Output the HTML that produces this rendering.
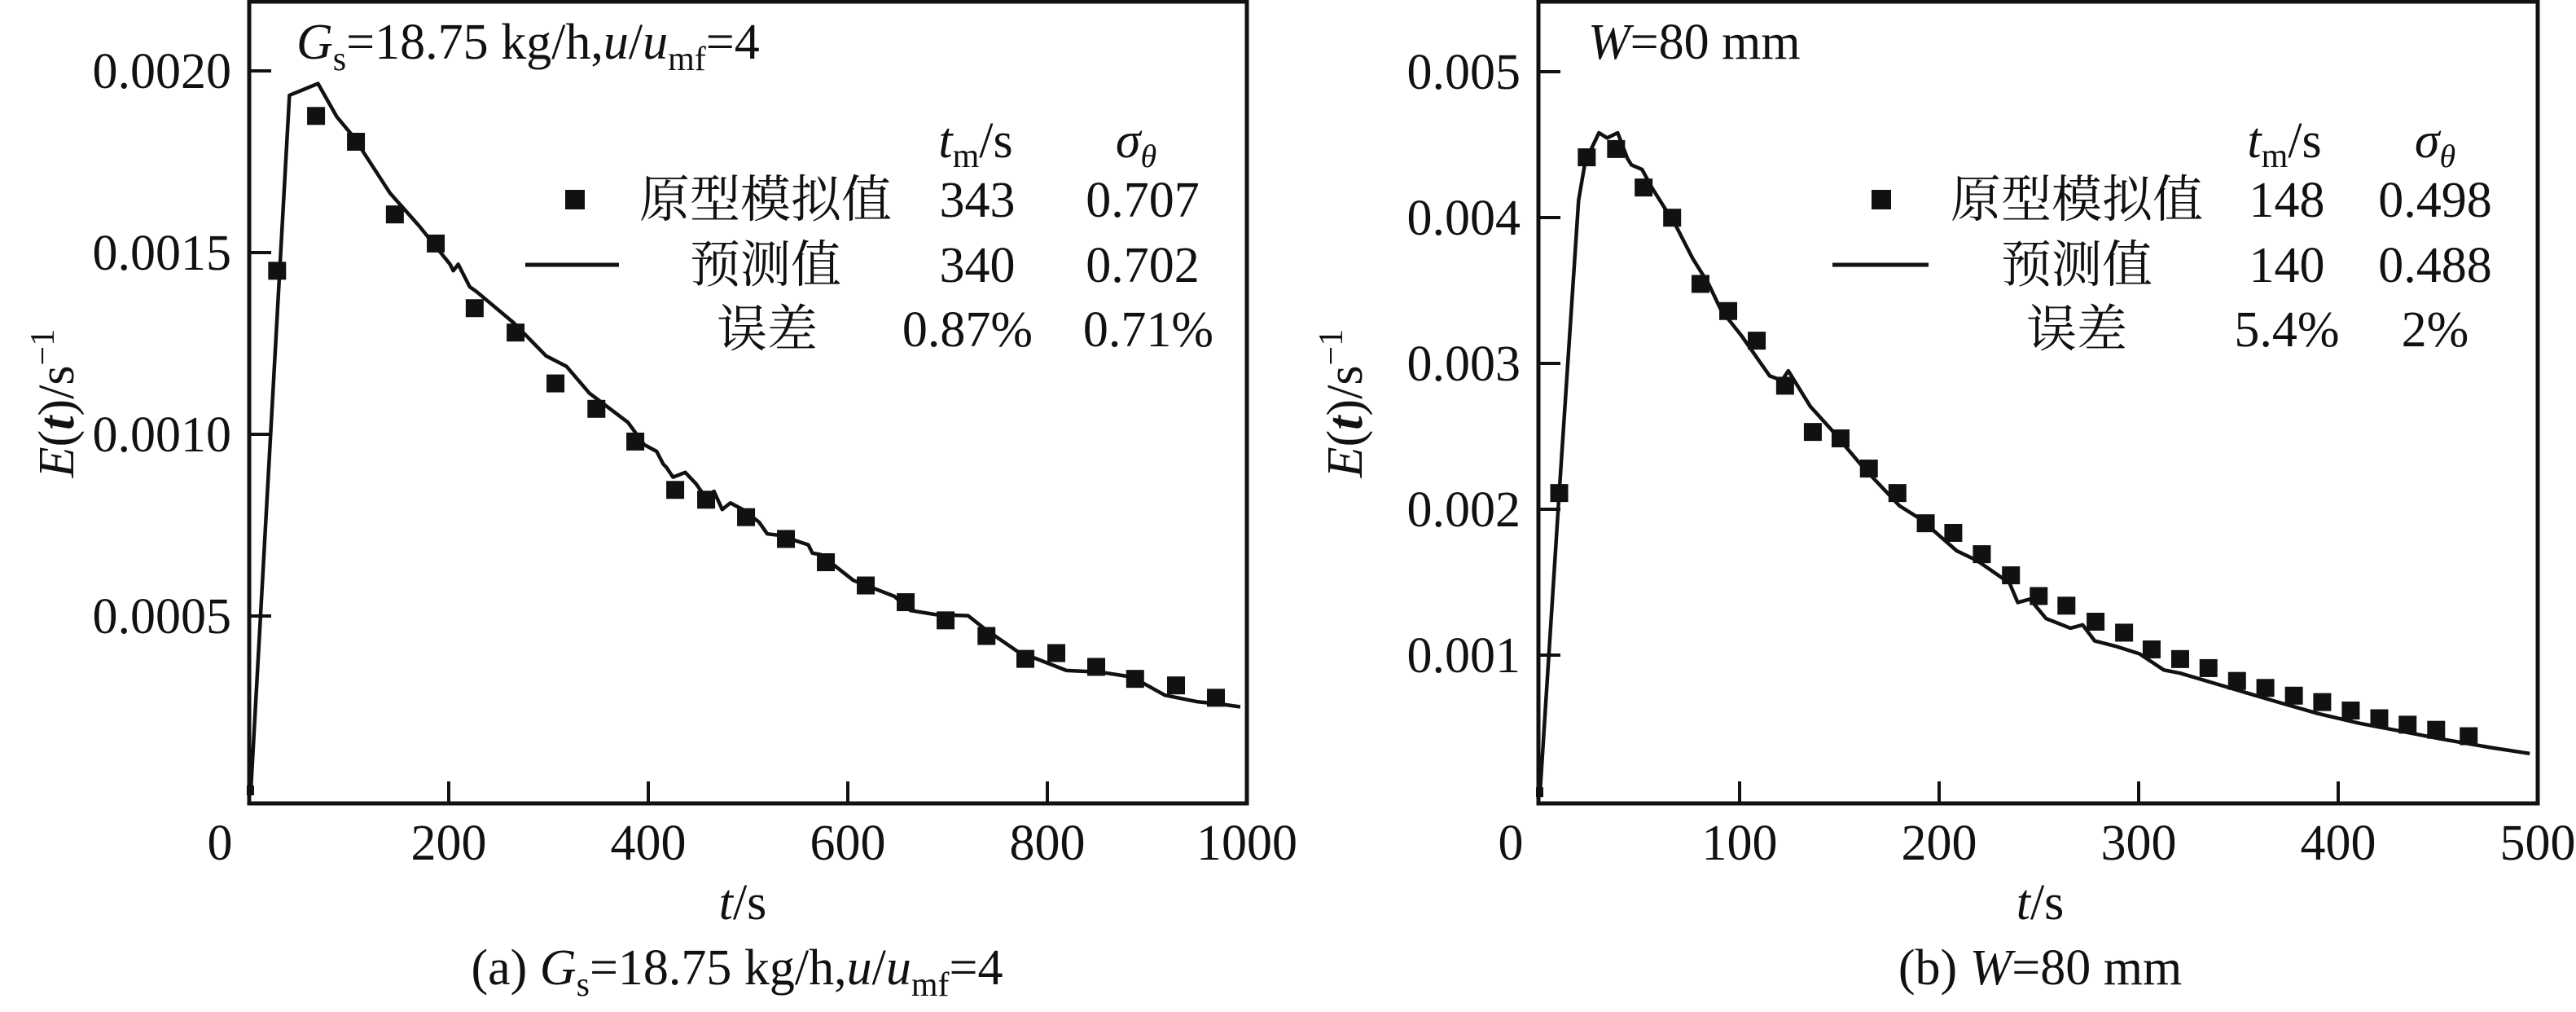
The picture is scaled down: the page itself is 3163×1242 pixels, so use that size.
<!DOCTYPE html>
<html><head><meta charset="utf-8"><style>
html,body{margin:0;padding:0;background:#fff;}
svg{display:block;}
text{font-family:"Liberation Serif","Noto Serif CJK SC","Noto Sans CJK SC",serif;fill:#111;}
.t{font-size:62px;}
</style></head><body>
<svg id="fig" width="3163" height="1242" viewBox="0 0 3163 1242" xmlns="http://www.w3.org/2000/svg">
<g id="gA"></g>
<g id="gB"></g>
</svg>
<script>
// ---- Chart A data ----
const aXTicks=[0,200,400,600,800,1000];
const aYTicks=[0.0005,0.0010,0.0015,0.0020];
const aYLabels=["0.0005","0.0010","0.0015","0.0020"];
const aSimT=[28,67,107,146,187,226,267,307,348,387,427,458,498,538,578,618,658,698,739,778,809,849,888,929,969];
const aSimE=[0.00145,0.001876,0.001805,0.001605,0.001525,0.001347,0.00128,0.00114,0.00107,0.00098,0.000847,0.00082,0.000772,0.000712,0.000648,0.000584,0.000538,0.000488,0.000445,0.000382,0.000398,0.00036,0.000327,0.000309,0.000275];
const aPredT=[1.6,40.3,69,87.9,104.4,141.3,170.1,201.3,204.6,209.5,221,227.6,264.6,297.5,318,341,379.6,396.1,408.4,415,418.2,424.8,437.1,447.8,457.7,465.9,474.1,482.3,494.7,511.1,519.3,531.6,560.4,564.5,572.7,605.6,646.7,663.1,687.8,720.6,737.1,769.9,819.2,852.1,885,917.8,950.7,975.3,993.4];
const aPredE=[0.00002,0.001933,0.001965,0.001873,0.001819,0.001663,0.001574,0.001468,0.00145,0.001468,0.001406,0.001393,0.001308,0.001216,0.001187,0.001113,0.001033,0.000971,0.000953,0.000918,0.000909,0.000882,0.000895,0.000864,0.000825,0.000843,0.000793,0.000811,0.000793,0.000758,0.000726,0.000722,0.000696,0.000673,0.000669,0.000598,0.000554,0.000515,0.000504,0.000501,0.000465,0.000403,0.00035,0.000346,0.000332,0.000282,0.000264,0.000257,0.00025];
// ---- Chart B data ----
const bXTicks=[0,100,200,300,400,500];
const bYTicks=[0.001,0.002,0.003,0.004,0.005];
const bYLabels=["0.001","0.002","0.003","0.004","0.005"];
const bSimT=[9.6,23.4,38.1,51.9,66.2,80.4,94.3,108.6,122.8,136.7,150.6,164.8,179.1,193.3,207.1,221.4,236,249.9,263.8,278.4,292.7,306.5,320.8,335,349.3,363.5,377.8,392,406.3,420.6,434.8,449.1,465.4];
const bSimE=[0.002111,0.004413,0.00447,0.004206,0.003999,0.003545,0.003359,0.003156,0.002847,0.00253,0.002486,0.002279,0.002111,0.001904,0.001838,0.001692,0.001547,0.001405,0.001339,0.001229,0.001154,0.001039,0.000973,0.000911,0.000823,0.000775,0.000722,0.000678,0.00062,0.000567,0.000523,0.000488,0.000444];
const bPredT=[0,9.6,19.3,22.6,29.5,33.6,38.9,43.8,45.8,51.1,56,68.2,76.4,84.5,90.6,100.8,115.1,121.2,124.4,135.4,145.6,161.9,180.2,190.4,208.8,219,235.3,239.4,245.5,253.6,265.8,271.9,278,288.2,300.4,312.6,320.8,337.1,353.4,369.7,390,410.4,430.8,451.1,475.6,496];
const bPredE=[0.00006,0.00211,0.004118,0.004382,0.004581,0.004546,0.004581,0.004405,0.004361,0.00433,0.004206,0.003941,0.003721,0.003544,0.003368,0.003192,0.002914,0.002883,0.002949,0.002706,0.002552,0.002287,0.002023,0.001935,0.001715,0.001648,0.001494,0.001361,0.001384,0.001251,0.001185,0.001207,0.001097,0.001062,0.001009,0.000898,0.000876,0.00081,0.000744,0.000678,0.000599,0.000533,0.00048,0.000426,0.000368,0.000325];

const NS="http://www.w3.org/2000/svg";
function mk(parent,tag,attrs){const e=document.createElementNS(NS,tag);for(const k in attrs)e.setAttribute(k,attrs[k]);parent.appendChild(e);return e;}

function drawChart(g,cfg){
  const X=t=>cfg.x0+(t-cfg.t0)/(cfg.t1-cfg.t0)*(cfg.x1-cfg.x0);
  const Y=v=>cfg.y0-v*cfg.yScale;
  // frame
  const fr=mk(g,'rect',{x:cfg.left,y:2,width:cfg.right-cfg.left,height:cfg.bottom-2,fill:'none',stroke:'#111','stroke-width':5});
  
  
  // x ticks
  cfg.xTicks.forEach((t,i)=>{
    const x=X(t);
    if(i>0&&i<cfg.xTicks.length-1){
      const tk=mk(g,'line',{x1:x,x2:x,y1:cfg.bottom,y2:cfg.bottom-27,stroke:'#111','stroke-width':4});
      
      
    }
    const lx=(i===0)?x-36:x;
    const lb=mk(g,'text',{x:lx,y:1055,'text-anchor':'middle',class:'t'});
    lb.textContent=String(t);
    
    
  });
  // y ticks
  cfg.yTicks.forEach((v,i)=>{
    const y=Y(v);
    const tk=mk(g,'line',{x1:cfg.left,x2:cfg.left+27,y1:y,y2:y,stroke:'#111','stroke-width':4});
    
    
    const lb=mk(g,'text',{x:cfg.left-22,y:y+21,'text-anchor':'end',class:'t'});
    lb.textContent=cfg.yLabels[i];
    
    
  });
  // prediction line
  let d='';
  cfg.predT.forEach((t,i)=>{d+=(i?'L':'M')+X(t).toFixed(1)+' '+Y(cfg.predE[i]).toFixed(1);});
  const pl=mk(g,'path',{d:d,fill:'none',stroke:'#111','stroke-width':4.5,'stroke-linejoin':'round'});
  
  
  // start marker
  const sm=mk(g,'rect',{x:X(cfg.predT[0])-5,y:Y(cfg.predE[0])-6,width:9,height:12,fill:'#111'});
  
  
  // sim squares
  cfg.simT.forEach((t,i)=>{
    const s=mk(g,'rect',{x:X(t)-11,y:Y(cfg.simE[i])-11,width:22,height:22,fill:'#111'});
    
    
  });
}

drawChart(document.getElementById('gA'),{left:306,right:1531,bottom:986,x0:306,x1:1531,t0:0,t1:1000,y0:979,yScale:446000,
  xTicks:aXTicks,yTicks:aYTicks,yLabels:aYLabels,simT:aSimT,simE:aSimE,predT:aPredT,predE:aPredE});
drawChart(document.getElementById('gB'),{left:1889,right:3116,bottom:986,x0:1891,x1:3116,t0:0,t1:500,y0:983,yScale:179000,
  xTicks:bXTicks,yTicks:bYTicks,yLabels:bYLabels,simT:bSimT,simE:bSimE,predT:bPredT,predE:bPredE});
</script>
<svg width="0" height="0" style="position:absolute"></svg>
<script>
(function(){
const svg=document.getElementById('fig');
const html=`
<g>
 <text class="t" x="364" y="72"><tspan font-style="italic">G</tspan><tspan font-size="42" dy="14">s</tspan><tspan dy="-14">=18.75 kg/h,</tspan><tspan font-style="italic">u</tspan>/<tspan font-style="italic">u</tspan><tspan font-size="42" dy="14">mf</tspan><tspan dy="-14">=4</tspan></text>
 <text class="t" x="1198" y="193" text-anchor="middle"><tspan font-style="italic">t</tspan><tspan font-size="42" dy="12">m</tspan><tspan dy="-12">/s</tspan></text>
 <text class="t" x="1395" y="193" text-anchor="middle"><tspan font-style="italic">σ</tspan><tspan font-size="40" dy="12" font-style="italic">θ</tspan></text>
 <rect x="694" y="233" width="24" height="24" fill="#111"/>
 <text class="t" x="785" y="266">原型模拟值</text>
 <text class="t" x="1200" y="266" text-anchor="middle">343</text>
 <text class="t" x="1403" y="266" text-anchor="middle">0.707</text>
 <line x1="645" x2="760" y1="325" y2="325" stroke="#111" stroke-width="5"/>
 <text class="t" x="940" y="346" text-anchor="middle">预测值</text>
 <text class="t" x="1200" y="346" text-anchor="middle">340</text>
 <text class="t" x="1403" y="346" text-anchor="middle">0.702</text>
 <text class="t" x="942" y="425" text-anchor="middle">误差</text>
 <text class="t" x="1188" y="425" text-anchor="middle">0.87%</text>
 <text class="t" x="1410" y="425" text-anchor="middle">0.71%</text>
 <text class="t" transform="translate(90,495) rotate(-90)" text-anchor="middle"><tspan font-style="italic">E</tspan>(<tspan font-style="italic" font-weight="bold">t</tspan>)/s<tspan font-size="42" dy="-24">−1</tspan></text>
 <text class="t" x="912" y="1128" text-anchor="middle"><tspan font-style="italic">t</tspan>/s</text>
 <text class="t" x="905" y="1208" text-anchor="middle">(a) <tspan font-style="italic">G</tspan><tspan font-size="42" dy="14">s</tspan><tspan dy="-14">=18.75 kg/h,</tspan><tspan font-style="italic">u</tspan>/<tspan font-style="italic">u</tspan><tspan font-size="42" dy="14">mf</tspan><tspan dy="-14">=4</tspan></text>
</g>
<g>
 <text class="t" x="1950" y="72"><tspan font-style="italic">W</tspan>=80 mm</text>
 <text class="t" x="2805" y="193" text-anchor="middle"><tspan font-style="italic">t</tspan><tspan font-size="42" dy="12">m</tspan><tspan dy="-12">/s</tspan></text>
 <text class="t" x="2990" y="193" text-anchor="middle"><tspan font-style="italic">σ</tspan><tspan font-size="40" dy="12" font-style="italic">θ</tspan></text>
 <rect x="2298" y="233" width="24" height="24" fill="#111"/>
 <text class="t" x="2395" y="266">原型模拟值</text>
 <text class="t" x="2808" y="266" text-anchor="middle">148</text>
 <text class="t" x="2990" y="266" text-anchor="middle">0.498</text>
 <line x1="2250" x2="2368" y1="325" y2="325" stroke="#111" stroke-width="5"/>
 <text class="t" x="2550" y="346" text-anchor="middle">预测值</text>
 <text class="t" x="2808" y="346" text-anchor="middle">140</text>
 <text class="t" x="2990" y="346" text-anchor="middle">0.488</text>
 <text class="t" x="2550" y="425" text-anchor="middle">误差</text>
 <text class="t" x="2808" y="425" text-anchor="middle">5.4%</text>
 <text class="t" x="2990" y="425" text-anchor="middle">2%</text>
 <text class="t" transform="translate(1672,495) rotate(-90)" text-anchor="middle"><tspan font-style="italic">E</tspan>(<tspan font-style="italic" font-weight="bold">t</tspan>)/s<tspan font-size="42" dy="-24">−1</tspan></text>
 <text class="t" x="2505" y="1128" text-anchor="middle"><tspan font-style="italic">t</tspan>/s</text>
 <text class="t" x="2505" y="1208" text-anchor="middle">(b) <tspan font-style="italic">W</tspan>=80 mm</text>
</g>`;
svg.insertAdjacentHTML('beforeend',html);
})();
</script>
</body></html>
